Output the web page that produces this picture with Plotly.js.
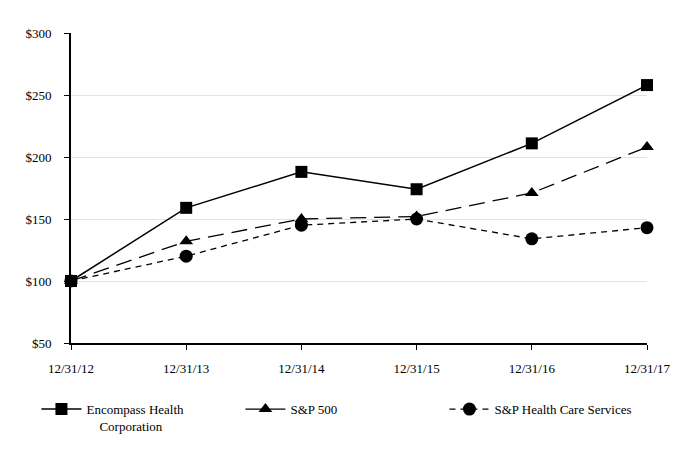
<!DOCTYPE html>
<html>
<head>
<meta charset="utf-8">
<script src="https://cdn.plot.ly/plotly-3.0.1.min.js"></script>
<style>html,body{margin:0;padding:0;background:#fff;}#chart{width:680px;height:461px;}</style>
</head>
<body>
<div id="chart"></div>
<script>
var dates = ["12/31/12", "12/31/13", "12/31/14", "12/31/15", "12/31/16", "12/31/17"];
var encompass = [100, 159, 188, 174, 211, 258];
var sp500 = [100, 132, 150, 152, 171, 208];
var spHealth = [100, 120, 145, 150, 134, 143];
var yTicks = [50, 100, 150, 200, 250, 300];
var yTickText = ["$50", "$100", "$150", "$200", "$250", "$300"];
var seriesNames = ["Encompass Health<br>\u00a0\u00a0\u00a0\u00a0Corporation", "S&P 500", "S&P Health Care Services"];

var font = {family: "'Liberation Serif', 'Times New Roman', 'DejaVu Serif', serif", size: 13, color: "#000"};

var traces = [
  {x: dates, y: encompass, name: seriesNames[0], mode: "lines+markers", cliponaxis: false,
   line: {color: "#000", width: 1.5, dash: "solid"}, marker: {symbol: "square", size: 12, color: "#000"}},
  {x: dates, y: sp500, name: seriesNames[1], mode: "lines+markers", cliponaxis: false,
   line: {color: "#000", width: 1.3, dash: "16px,8px"}, marker: {symbol: "triangle-up", size: 12, color: "#000"}},
  {x: dates, y: spHealth, name: seriesNames[2], mode: "lines+markers", cliponaxis: false,
   line: {color: "#000", width: 1.3, dash: "6px,5px"}, marker: {symbol: "circle", size: 13, color: "#000"}}
];

var layout = {
  width: 680, height: 461,
  margin: {l: 71, r: 33, t: 33, b: 118},
  paper_bgcolor: "#fff", plot_bgcolor: "#fff",
  font: font,
  showlegend: true,
  legend: {orientation: "h", x: -0.06, xanchor: "left", y: -0.165, yanchor: "top", valign: "top",
           entrywidth: 149, entrywidthmode: "pixels", itemwidth: 40, font: font, bgcolor: "rgba(0,0,0,0)"},
  xaxis: {type: "category", range: [0, 5], showgrid: false, showline: true, linecolor: "#000", linewidth: 2,
          ticks: "outside", ticklen: 5, tickcolor: "#000", tickfont: font, ticklabelstandoff: 7,
          zeroline: false, fixedrange: true},
  yaxis: {range: [50, 300], tickvals: yTicks, ticktext: yTickText, showgrid: true, gridcolor: "#e3e3e3",
          showline: true, linecolor: "#000", linewidth: 2, ticks: "outside", ticklen: 5, tickcolor: "#000",
          tickfont: font, ticklabelstandoff: 10, zeroline: false, fixedrange: true}
};

Plotly.newPlot("chart", traces, layout, {displayModeBar: false, staticPlot: true});
</script>
</body>
</html>
